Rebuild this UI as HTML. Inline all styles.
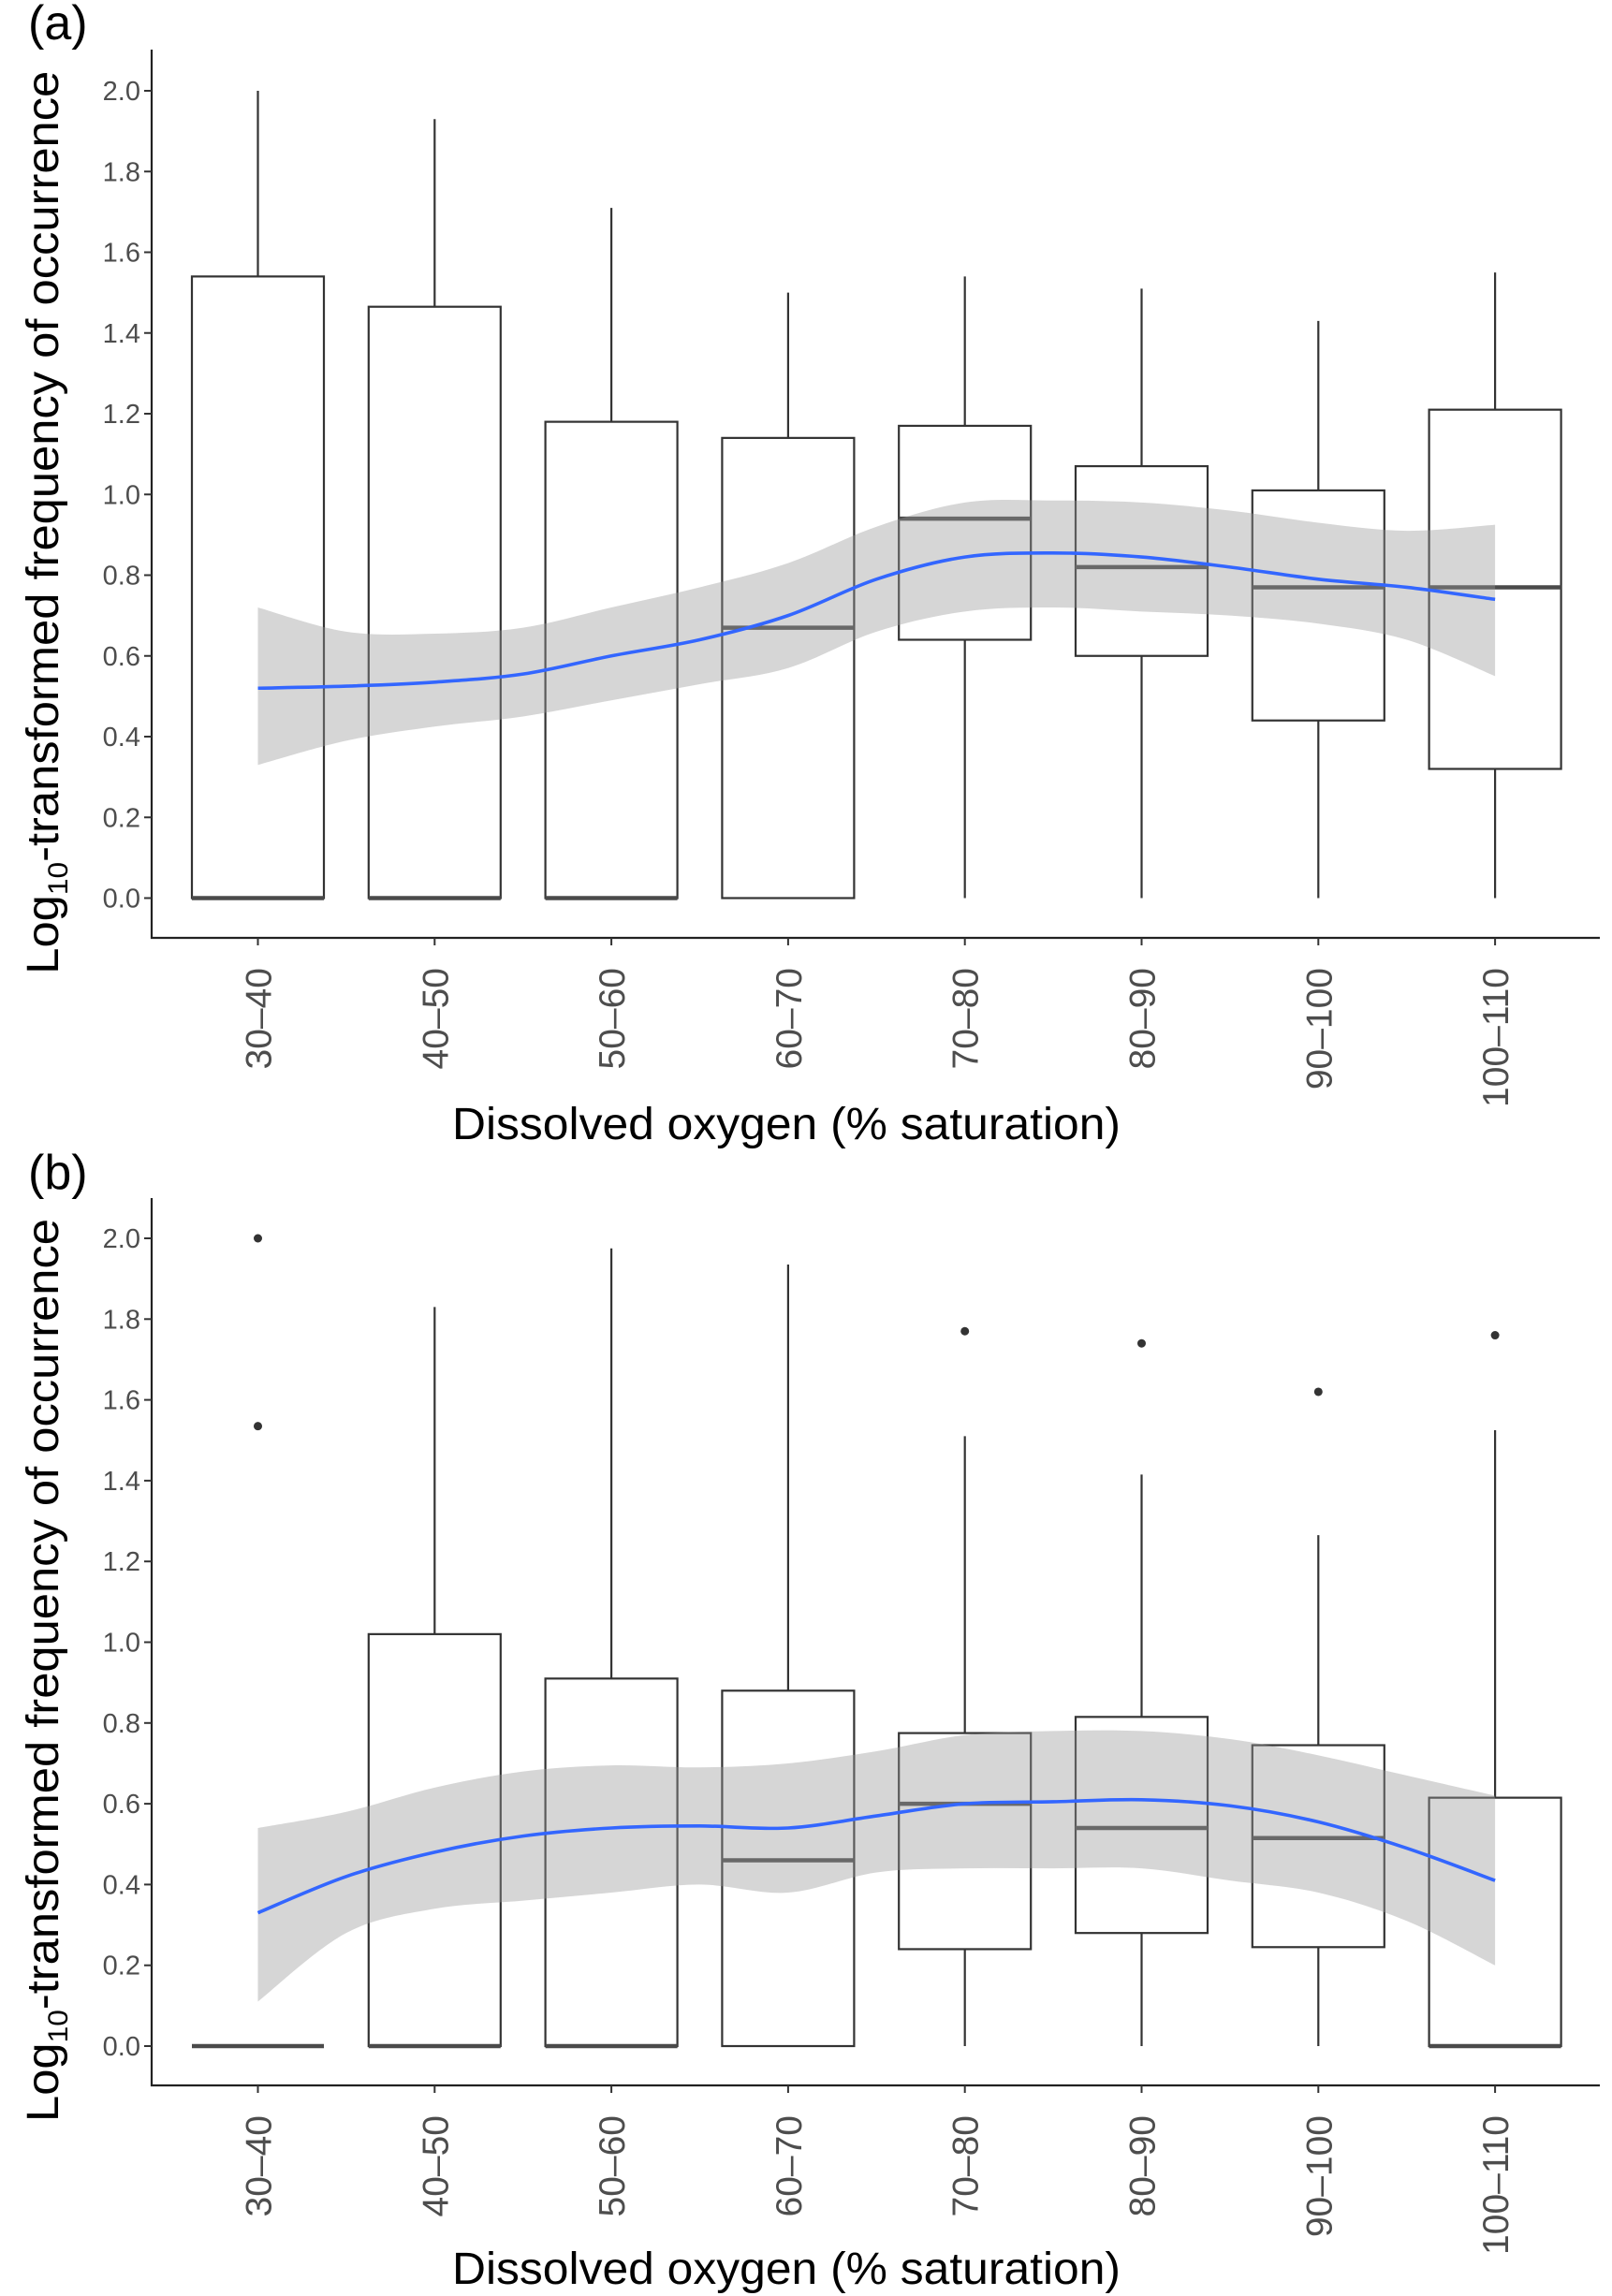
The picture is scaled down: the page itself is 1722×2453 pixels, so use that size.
<!DOCTYPE html>
<html><head><meta charset="utf-8"><style>
html,body{margin:0;padding:0;background:#fff;}
svg{display:block;font-family:"Liberation Sans",Arial,sans-serif;}
</style></head><body>
<svg id="chart" width="1722" height="2453" viewBox="0 0 1722 2453" xmlns="http://www.w3.org/2000/svg"></svg>
<script>
const categories = ["30–40","40–50","50–60","60–70","70–80","80–90","90–100","100–110"];
const yTicks = [0,0.2,0.4,0.6,0.8,1.0,1.2,1.4,1.6,1.8,2.0];
const yTickLabels = ["0.0","0.2","0.4","0.6","0.8","1.0","1.2","1.4","1.6","1.8","2.0"];
// panel a: [lower, q1, median, q3, upper]
const boxesA = [[0,0,0,1.54,2.0],[0,0,0,1.465,1.93],[0,0,0,1.18,1.71],[0,0,0.67,1.14,1.50],[0,0.64,0.94,1.17,1.54],[0,0.60,0.82,1.07,1.51],[0,0.44,0.77,1.01,1.43],[0,0.32,0.77,1.21,1.55]];
const outliersA = [];
const smoothXA = [1,1.5,2,2.5,3,3.5,4,4.5,5,5.5,6,6.5,7,7.5,8];
const smoothA = [0.52,0.525,0.535,0.555,0.60,0.64,0.70,0.79,0.845,0.855,0.845,0.82,0.79,0.77,0.74];
const upperA = [0.72,0.66,0.655,0.67,0.72,0.77,0.83,0.92,0.98,0.985,0.98,0.96,0.93,0.91,0.925];
const lowerA = [0.33,0.39,0.425,0.45,0.49,0.53,0.57,0.66,0.71,0.72,0.71,0.70,0.68,0.64,0.55];
// panel b
const boxesB = [[0,0,0,0,0],[0,0,0,1.02,1.83],[0,0,0,0.91,1.975],[0,0,0.46,0.88,1.935],[0,0.24,0.60,0.775,1.51],[0,0.28,0.54,0.815,1.415],[0,0.245,0.515,0.745,1.265],[0,0,0,0.615,1.525]];
const outliersB = [[1,2.0],[1,1.535],[5,1.77],[6,1.74],[7,1.62],[8,1.76]];
const smoothXB = [1,1.5,2,2.5,3,3.5,4,4.5,5,5.5,6,6.5,7,7.5,8];
const smoothB = [0.33,0.42,0.48,0.52,0.54,0.545,0.54,0.57,0.60,0.605,0.61,0.595,0.555,0.49,0.41];
const upperB = [0.54,0.58,0.64,0.68,0.695,0.69,0.70,0.73,0.77,0.78,0.78,0.76,0.72,0.67,0.62];
const lowerB = [0.11,0.28,0.34,0.36,0.38,0.40,0.38,0.43,0.44,0.44,0.44,0.41,0.38,0.31,0.20];

const NS="http://www.w3.org/2000/svg";
const svg=document.getElementById('chart');
function mk(tag,attrs,parent){const e=document.createElementNS(NS,tag);for(const k in attrs)e.setAttribute(k,attrs[k]);(parent||svg).appendChild(e);return e;}
function catmull(pts){let d="M"+pts[0][0]+","+pts[0][1];for(let i=0;i<pts.length-1;i++){const p0=pts[i-1]||pts[i],p1=pts[i],p2=pts[i+1],p3=pts[i+2]||p2;
d+=" C"+(p1[0]+(p2[0]-p0[0])/6)+","+(p1[1]+(p2[1]-p0[1])/6)+" "+(p2[0]-(p3[0]-p1[0])/6)+","+(p2[1]-(p3[1]-p1[1])/6)+" "+p2[0]+","+p2[1];}return d;}

function panel(cfg){
  const g=mk('g',{});
  
  
  const xL=162,xR=1709,x0=275.5,dx=188.8,hw=70.5;
  const xS=i=>x0+(i-1)*dx;
  const yS=v=>cfg.y0+(cfg.y2-cfg.y0)*v/2;
  cfg.boxes.forEach((b,i)=>{
    const cx=xS(i+1);
    const bg=mk('g',{},g);
    
    
    mk('line',{x1:cx,x2:cx,y1:yS(b[3]),y2:yS(b[4]),stroke:'#333','stroke-width':2.2},bg);
    mk('line',{x1:cx,x2:cx,y1:yS(b[0]),y2:yS(b[1]),stroke:'#333','stroke-width':2.2},bg);
    mk('rect',{x:cx-hw,y:yS(b[3]),width:2*hw,height:Math.max(0,yS(b[1])-yS(b[3])),fill:'#fff',stroke:'#333','stroke-width':2.2},bg);
    mk('line',{x1:cx-hw,x2:cx+hw,y1:yS(b[2]),y2:yS(b[2]),stroke:'#4a4a4a','stroke-width':4.5},bg);
  });
  cfg.outliers.forEach(o=>{
    const c=mk('circle',{cx:xS(o[0]),cy:yS(o[1]),r:4.5,fill:'#333'},g);
    
    
  });
  const up=cfg.sx.map((x,i)=>[xS(x),yS(cfg.up[i])]);
  const lo=cfg.sx.map((x,i)=>[xS(x),yS(cfg.lo[i])]).reverse();
  const bandD=catmull(up)+" L"+lo[0][0]+","+lo[0][1]+catmull(lo).replace(/^M[^ ]+/,"")+" Z";
  const band=mk('path',{d:bandD,fill:'#999','fill-opacity':0.4,stroke:'none'},g);
  
  
  const ln=mk('path',{d:catmull(cfg.sx.map((x,i)=>[xS(x),yS(cfg.sm[i])])),fill:'none',stroke:'#3366ff','stroke-width':3.6},g);
  
  
  const ya=mk('line',{x1:xL,x2:xL,y1:cfg.top,y2:cfg.axY+1,stroke:'#222','stroke-width':2.2},g);
  
  
  const xa=mk('line',{x1:xL-1,x2:xR,y1:cfg.axY,y2:cfg.axY,stroke:'#222','stroke-width':2.2},g);
  
  
  yTicks.forEach((v,i)=>{
    mk('line',{x1:xL-8,x2:xL,y1:yS(v),y2:yS(v),stroke:'#333','stroke-width':2},g);
    const t=mk('text',{x:xL-12,y:yS(v)+10,'text-anchor':'end','font-size':29,fill:'#4d4d4d'},g);
    t.textContent=yTickLabels[i];
    
    
  });
  categories.forEach((c,i)=>{
    const cx=xS(i+1);
    mk('line',{x1:cx,x2:cx,y1:cfg.axY,y2:cfg.axY+8,stroke:'#333','stroke-width':2},g);
    const t=mk('text',{x:0,y:0,'text-anchor':'end','font-size':39,fill:'#4d4d4d',transform:`translate(${cx+14},${cfg.axY+32}) rotate(-90)`},g);
    t.textContent=c;
    
    
  });
  const xt=mk('text',{x:840,y:cfg.xtY,'text-anchor':'middle','font-size':48,fill:'#000',textLength:714,lengthAdjust:'spacingAndGlyphs'},g);
  xt.textContent="Dissolved oxygen (% saturation)";
  
  
  const ytY=(cfg.y0+cfg.y2)/2+30;
  const yt=mk('text',{x:0,y:0,'text-anchor':'middle','font-size':48,fill:'#000',transform:`translate(62,${ytY}) rotate(-90)`,textLength:965,lengthAdjust:'spacingAndGlyphs'},g);
  
  
  const s1=mk('tspan',{},yt);s1.textContent="Log";
  const s2=mk('tspan',{'font-size':30,dy:10},yt);s2.textContent="10";
  const s3=mk('tspan',{dy:-10},yt);s3.textContent="-transformed frequency of occurrence";
  const lab=mk('text',{x:30,y:cfg.labY,'font-size':52,fill:'#000'},g);
  lab.textContent=cfg.label;
  
  
}
panel({name:'panel-a',label:'(a)',y0:959.5,y2:97,top:53,axY:1002,xtY:1217,labY:42,boxes:boxesA,outliers:outliersA,sx:smoothXA,sm:smoothA,up:upperA,lo:lowerA});
panel({name:'panel-b',label:'(b)',y0:2186,y2:1323,top:1280,axY:2228,xtY:2440,labY:1270,boxes:boxesB,outliers:outliersB,sx:smoothXB,sm:smoothB,up:upperB,lo:lowerB});
</script>
</body></html>
